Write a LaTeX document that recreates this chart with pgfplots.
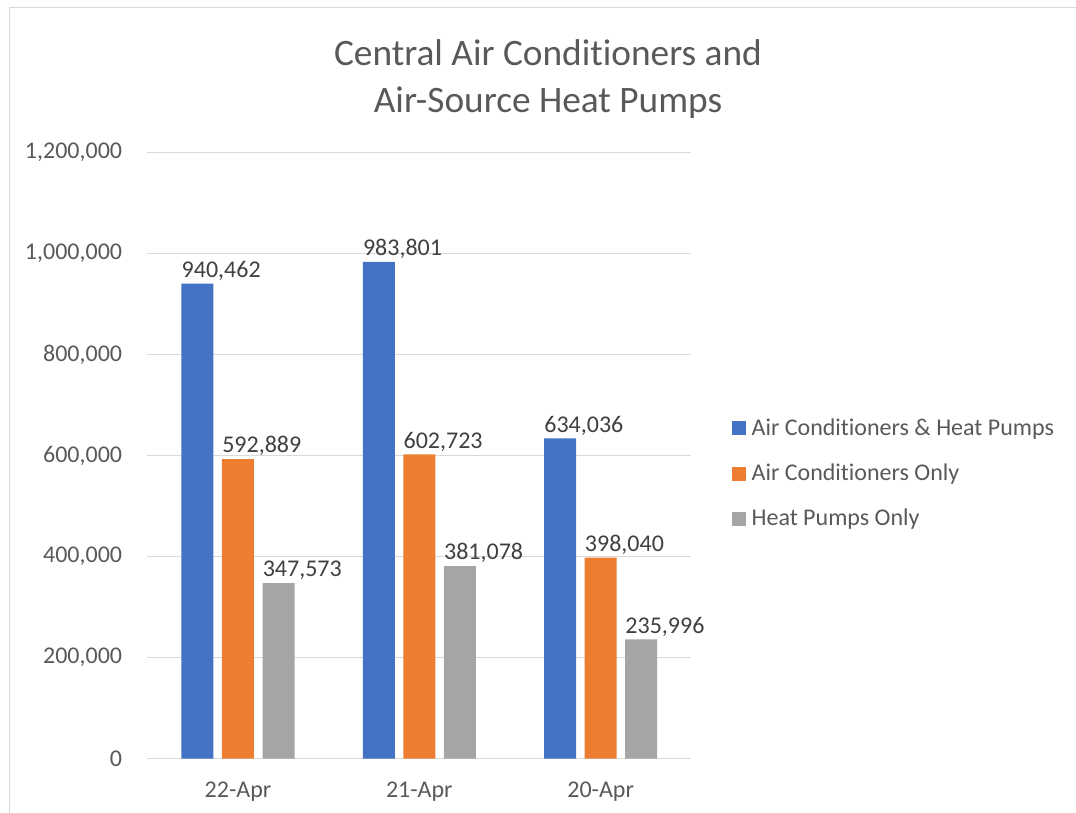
\documentclass[border=0pt]{standalone}
\usepackage{pgfplots}
\pgfplotsset{compat=1.18}
\usepackage{fontspec}
\setmainfont{Carlito}[RawFeature={-liga}]
\definecolor{cblue}{HTML}{4472C4}
\definecolor{corange}{HTML}{ED7D31}
\definecolor{cgray}{HTML}{A5A5A5}
\definecolor{ctext}{HTML}{595959}
\definecolor{clabel}{HTML}{404040}
\definecolor{gridgray}{HTML}{D9D9D9}
\begin{document}
\begin{tikzpicture}
\path[use as bounding box] (0pt,0pt) rectangle (807pt,609.75pt);
\draw[color=gridgray, line width=0.75pt] (6.75pt,0pt) -- (6.75pt,603.75pt) -- (807pt,603.75pt);
\node[anchor=base, font=\fontsize{28}{33}\selectfont, text=ctext, inner sep=0pt] at (411pt,560.25pt) {Central Air Conditioners and};
\node[anchor=base, font=\fontsize{28}{33}\selectfont, text=ctext, inner sep=0pt] at (411pt,525pt) {Air-Source Heat Pumps};
\begin{axis}[
  at={(110.5pt,40.75pt)}, anchor=south west,
  width=408pt, height=454.5pt, scale only axis,
  ybar=6.4pt, bar width=24pt,
  xmin=-0.5, xmax=2.5, ymin=0, ymax=1200000,
  xtick={0,1,2}, xticklabels={22-Apr,21-Apr,20-Apr},
  ytick={0,200000,400000,600000,800000,1000000,1200000},
  scaled y ticks=false,
  /pgf/number format/assume math mode=true,
  yticklabel={\pgfmathprintnumber[fixed,precision=0,1000 sep={,},assume math mode=true]{\tick}},
  ymajorgrids, grid style={color=gridgray, line width=0.75pt},
  axis line style={draw=none},
  major tick length=0pt,
  tick label style={font=\fontsize{18}{21.6}\selectfont, text=ctext},
  yticklabel style={inner sep=0pt, xshift=-18.75pt},
  xticklabel style={inner sep=0pt, yshift=-17.25pt},
  nodes near coords, point meta=explicit symbolic,
  nodes near coords style={font=\fontsize{18}{21.6}\selectfont, text=clabel, anchor=south west, inner sep=0pt, text depth=0pt, xshift=-12pt, yshift=4.5pt},
  legend style={at={(1.0748,0.4703)}, anchor=west, draw=none, fill=none, inner sep=0pt,
    font=\fontsize{18}{21.6}\selectfont, text=ctext, row sep=15.5pt, column sep=4pt,
    nodes={inner sep=0pt, text height=14.5pt, text depth=4pt}, cells={anchor=west}},
  legend image code/.code={\fill[#1] (0pt,-5.25pt) rectangle (10.5pt,5.25pt);},
]
\addplot[fill=cblue, draw=none] table[x=x,y=y,meta=l] {
x y l
0 940462 940,462
1 983801 983,801
2 634036 634,036
};
\addplot[fill=corange, draw=none] table[x=x,y=y,meta=l] {
x y l
0 592889 592,889
1 602723 602,723
2 398040 398,040
};
\addplot[fill=cgray, draw=none] table[x=x,y=y,meta=l] {
x y l
0 347573 347,573
1 381078 381,078
2 235996 235,996
};
\legend{Air Conditioners \& Heat Pumps, Air Conditioners Only, Heat Pumps Only}
\end{axis}
\end{tikzpicture}
\end{document}
